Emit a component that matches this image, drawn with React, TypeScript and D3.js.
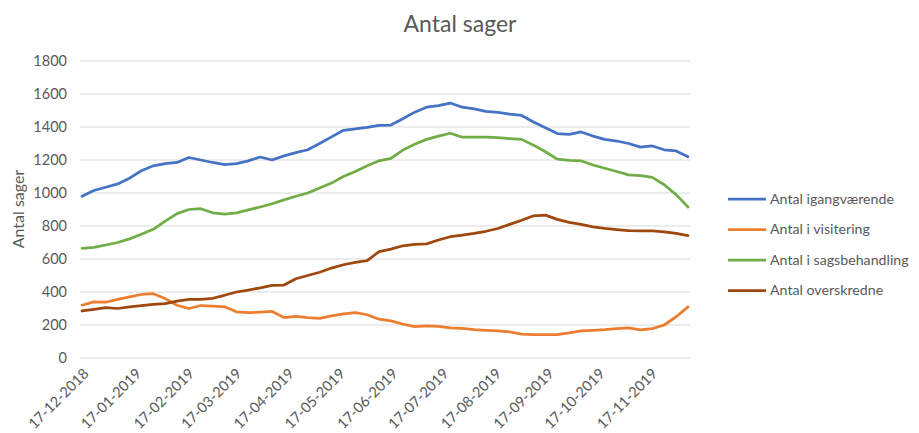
import React, { useEffect, useRef } from 'react';
import * as d3 from 'd3';

// weekly observations, first week starts 17-12-2018
const startDate = '2018-12-17';
const weekCount = 52;

const igangvaerende = [
  980, 1015, 1035, 1055, 1090, 1135, 1165, 1178, 1185, 1215, 1200, 1185, 1172,
  1178, 1195, 1218, 1200, 1225, 1245, 1262, 1300, 1340, 1380, 1388, 1398, 1410,
  1412, 1450, 1490, 1520, 1530, 1545, 1520, 1510, 1495, 1488, 1478, 1470, 1430,
  1395, 1360, 1355, 1370, 1345, 1325, 1315, 1300, 1278, 1285, 1262, 1255, 1220,
];

const visitering = [
  320, 340, 338, 355, 370, 385, 390, 360, 320, 300, 318, 315, 310,
  280, 275, 278, 282, 245, 252, 245, 240, 255, 268, 275, 262, 235,
  225, 205, 190, 195, 192, 182, 180, 172, 168, 165, 158, 145, 142,
  142, 142, 152, 165, 168, 172, 178, 182, 170, 178, 200, 250, 310,
];

const sagsbehandling = [
  665, 670, 685, 700, 722, 750, 780, 830, 875, 900, 905, 880, 872,
  880, 898, 915, 935, 958, 980, 1000, 1030, 1060, 1100, 1130, 1165, 1195,
  1210, 1260, 1295, 1325, 1345, 1362, 1338, 1338, 1338, 1335, 1330, 1325, 1290,
  1250, 1205, 1198, 1195, 1170, 1150, 1130, 1110, 1105, 1095, 1050, 990, 915,
];

const overskredne = [
  285, 295, 305, 300, 310, 318, 325, 330, 345, 355, 356, 362, 380,
  400, 412, 425, 440, 442, 480, 500, 520, 545, 565, 580, 590, 645,
  660, 680, 688, 692, 715, 735, 745, 755, 768, 785, 810, 835, 862,
  866, 840, 822, 810, 795, 785, 778, 772, 770, 770, 765, 755, 742,
];

const seriesNames = [
  'Antal igangværende',
  'Antal i visitering',
  'Antal i sagsbehandling',
  'Antal overskredne',
];
const seriesColors = ['#4472C4', '#ED7D31', '#70AD47', '#9E480E'];

const tickDates = [
  '2018-12-17', '2019-01-17', '2019-02-17', '2019-03-17', '2019-04-17', '2019-05-17',
  '2019-06-17', '2019-07-17', '2019-08-17', '2019-09-17', '2019-10-17', '2019-11-17',
];
const yTicks = [0, 200, 400, 600, 800, 1000, 1200, 1400, 1600, 1800];

const W = 919;
const H = 433;
const FONT = 'Lato, "Open Sans", sans-serif';

export default function App() {
  const ref = useRef<SVGSVGElement | null>(null);

  useEffect(() => {
    const svg = d3.select(ref.current);
    svg.selectAll('*').remove();

    const parse = d3.timeParse('%Y-%m-%d');
    const first = parse(startDate) as Date;
    const dates = d3.range(weekCount).map((i) => d3.timeDay.offset(first, i * 7));

    // plot area
    const left = 80;
    const right = 690;
    const top = 61;
    const bottom = 358;

    const x = d3.scaleTime()
      .domain([dates[0], dates[dates.length - 1]])
      .range([82, 688]);

    const y = d3.scaleLinear()
      .domain([0, 1800])
      .range([bottom, top]);

    // gridlines
    svg.append('g')
      .selectAll('line')
      .data(yTicks)
      .enter()
      .append('line')
      .attr('x1', left)
      .attr('x2', right)
      .attr('y1', (d) => y(d))
      .attr('y2', (d) => y(d))
      .attr('stroke', '#d9d9d9')
      .attr('stroke-width', 1);

    // y axis labels
    svg.append('g')
      .selectAll('text')
      .data(yTicks)
      .enter()
      .append('text')
      .attr('x', 67)
      .attr('y', (d) => y(d))
      .attr('dy', '0.35em')
      .attr('text-anchor', 'end')
      .attr('font-family', FONT)
      .attr('font-size', 14.5)
      .attr('fill', '#595959')
      .text((d) => String(d));

    // x axis labels, rotated
    const fmt = d3.timeFormat('%d-%m-%Y');
    svg.append('g')
      .selectAll('text')
      .data(tickDates.map((d) => parse(d) as Date))
      .enter()
      .append('text')
      .attr('transform', (d) => 'translate(' + (x(d) + 4) + ',' + 371 + ') rotate(-45)')
      .attr('text-anchor', 'end')
      .attr('dy', '0.35em')
      .attr('font-family', FONT)
      .attr('font-size', 14.5)
      .attr('fill', '#595959')
      .text((d) => fmt(d));

    // lines
    const allSeries = [igangvaerende, visitering, sagsbehandling, overskredne];
    const line = d3.line<number>()
      .x((d, i) => x(dates[i]))
      .y((d) => y(d));

    svg.append('g')
      .selectAll('path')
      .data(allSeries)
      .enter()
      .append('path')
      .attr('d', (d) => line(d))
      .attr('fill', 'none')
      .attr('stroke', (d, i) => seriesColors[i])
      .attr('stroke-width', 2.75)
      .attr('stroke-linejoin', 'round')
      .attr('stroke-linecap', 'round');

    // title
    svg.append('text')
      .attr('x', 460)
      .attr('y', 32)
      .attr('text-anchor', 'middle')
      .attr('font-family', FONT)
      .attr('font-size', 23)
      .attr('fill', '#595959')
      .text('Antal sager');

    // y axis title
    svg.append('text')
      .attr('transform', 'translate(18,' + 209 + ') rotate(-90)')
      .attr('text-anchor', 'middle')
      .attr('dy', '0.35em')
      .attr('font-family', FONT)
      .attr('font-size', 16)
      .attr('fill', '#595959')
      .text('Antal sager');

    // legend
    const legend = svg.append('g')
      .selectAll('g')
      .data(seriesNames)
      .enter()
      .append('g')
      .attr('transform', (d, i) => 'translate(728,' + (199 + i * 30.5) + ')');

    legend.append('line')
      .attr('x1', 0)
      .attr('x2', 38)
      .attr('stroke', (d, i) => seriesColors[i])
      .attr('stroke-width', 2.75);

    legend.append('text')
      .attr('x', 42)
      .attr('dy', '0.35em')
      .attr('font-family', FONT)
      .attr('font-size', 14.2)
      .attr('fill', '#595959')
      .text((d) => d);
  }, []);

  return (
    <svg
      ref={ref}
      width={W}
      height={H}
      style={{ position: 'absolute', left: 0, top: 0, background: '#fff' }}
    />
  );
}
